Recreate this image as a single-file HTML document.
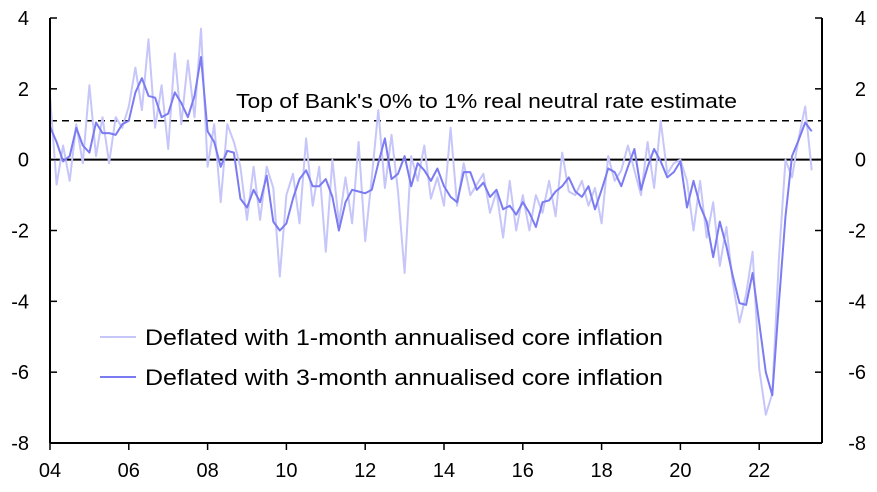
<!DOCTYPE html>
<html><head><meta charset="utf-8"><style>
body{margin:0;background:#fff}
svg text{font-family:"Liberation Sans",sans-serif;fill:#000}
</style></head><body>
<svg id="chart" width="877" height="487" viewBox="0 0 877 487" xmlns="http://www.w3.org/2000/svg"></svg>
<script>
const startYear = 2004;
const stepYears = 1/6;
const oneMonth = [1.8,-0.7,0.4,-0.6,1.0,-0.1, 2.1,0.1,1.2,-0.1,1.2,0.9, 1.5,2.6,1.4,3.4,0.9,2.1, 0.3,3.0,1.0,2.8,1.2,3.7,
 -0.2,1.0,-1.2,1.0,0.5,-0.2, -1.7,-0.2,-1.7,-0.2,-0.8,-3.3, -1.0,-0.4,-1.8,0.6,-1.3,-0.2, -2.6,0.0,-1.8,-0.5,-1.8,0.5,
 -2.3,-0.5,1.4,-0.8,0.7,-0.9, -3.2,0.1,-0.6,0.4,-1.1,-0.5, -1.3,0.9,-1.3,-0.1,-1.0,-0.7, -0.4,-1.5,-0.9,-2.2,-0.6,-2.0,
 -1.0,-2.0,-1.0,-1.5,-0.6,-1.6, 0.2,-0.9,-1.0,-0.6,-1.3,-0.8, -1.8,0.1,-0.6,-0.3,0.4,-0.3, -1.0,0.5,-0.8,1.1,-0.4,-0.1,
 0.0,-0.6,-2.0,-0.6,-2.2,-1.2, -3.0,-1.9,-3.5,-4.6,-3.8,-2.6, -5.9,-7.2,-6.6,-2.8,0.0,-0.5, 0.6,1.5,-0.3];
const threeMonth = [0.93,0.5,-0.05,0.1,0.9,0.4, 0.2,1.05,0.75,0.75,0.7,1.0, 1.1,1.9,2.3,1.8,1.75,1.2, 1.3,1.9,1.6,1.2,1.8,2.9,
 0.8,0.5,-0.2,0.25,0.2,-1.1, -1.35,-0.85,-1.2,-0.45,-1.75,-2.0, -1.8,-1.1,-0.55,-0.3,-0.75,-0.75, -0.55,-1.05,-2.0,-1.2,-0.85,-0.9,
 -0.95,-0.85,-0.1,0.6,-0.55,-0.4, 0.1,-0.75,-0.1,-0.3,-0.6,-0.25, -0.75,-1.05,-1.2,-0.35,-0.35,-0.85, -0.65,-1.05,-0.85,-1.4,-1.3,-1.55,
 -1.2,-1.5,-1.9,-1.2,-1.15,-0.9, -0.75,-0.5,-0.9,-1.05,-0.75,-1.4, -0.85,-0.25,-0.35,-0.75,-0.2,0.3, -0.85,-0.2,0.3,-0.05,-0.5,-0.35,
 -0.05,-1.35,-0.6,-1.3,-1.75,-2.75, -1.75,-2.45,-3.3,-4.05,-4.1,-3.2, -4.6,-6.0,-6.65,-4.05,-1.6,0.1, 0.55,1.05,0.8];
const yTicks = [4,2,0,-2,-4,-6,-8];
const xTickYears = [2004,2006,2008,2010,2012,2014,2016,2018,2020,2022];
const xTickLabels = ["04","06","08","10","12","14","16","18","20","22"];
const neutralTop = 1.1;

const NS="http://www.w3.org/2000/svg", svg=document.getElementById('chart');
const L=50,R=822,T=18,B=443;
const x=yr=>L+(yr-2004)*39.4;
const y=v=>T+(4-v)*(B-T)/12;
function mk(tag,attrs,parent){const e=document.createElementNS(NS,tag);for(const k in attrs)e.setAttribute(k,attrs[k]);(parent||svg).appendChild(e);return e;}

let z=mk('line',{x1:L,x2:R,y1:y(0),y2:y(0),stroke:'#000','stroke-width':2});


let d=mk('line',{x1:L,x2:R,y1:y(neutralTop),y2:y(neutralTop),stroke:'#000','stroke-width':1.5,'stroke-dasharray':'7,5'});


let ann=mk('text',{x:236,y:108,'font-size':20,textLength:501,lengthAdjust:'spacingAndGlyphs'});
ann.textContent="Top of Bank's 0% to 1% real neutral rate estimate";



function series(vals,color,w,name){
  const pts=vals.map((v,i)=>x(startYear+i*stepYears).toFixed(1)+','+y(v).toFixed(1)).join(' ');
  const p=mk('polyline',{points:pts,fill:'none',stroke:color,'stroke-width':w,'stroke-linejoin':'round'});
  
  
}
series(oneMonth,'#c6c6fa',2,'series-1-month');
series(threeMonth,'#7b7bf2',2,'series-3-month');

let la=mk('line',{x1:L,x2:L,y1:T,y2:B,stroke:'#000','stroke-width':2});


let ra=mk('line',{x1:R,x2:R,y1:T,y2:B,stroke:'#000','stroke-width':2});


let xa=mk('line',{x1:L,x2:R,y1:B,y2:B,stroke:'#000','stroke-width':2});


yTicks.forEach(v=>{
  mk('line',{x1:L,x2:L+7,y1:y(v),y2:y(v),stroke:'#000','stroke-width':1.5});
  mk('line',{x1:R-7,x2:R,y1:y(v),y2:y(v),stroke:'#000','stroke-width':1.5});
  let t=mk('text',{x:29,y:y(v)+7,'font-size':20,'text-anchor':'end'});t.textContent=v;
  
  
  let t2=mk('text',{x:866,y:y(v)+7,'font-size':20,'text-anchor':'end'});t2.textContent=v;
  
  
});
xTickYears.forEach((yr,i)=>{
  mk('line',{x1:x(yr),x2:x(yr),y1:B,y2:B+7,stroke:'#000','stroke-width':1.5});
  let t=mk('text',{x:x(yr),y:477,'font-size':20,'text-anchor':'middle'});t.textContent=xTickLabels[i];
  
  
});
[['Deflated with 1-month annualised core inflation','#c6c6fa',337],['Deflated with 3-month annualised core inflation','#7b7bf2',377]].forEach(([lab,c,yy])=>{
  const g=mk('g',{});
  
  
  mk('line',{x1:100,x2:136,y1:yy,y2:yy,stroke:c,'stroke-width':2},g);
  const t=mk('text',{x:145,y:yy+8,'font-size':22,textLength:518,lengthAdjust:'spacingAndGlyphs'},g);t.textContent=lab;
});
</script>
</body></html>
